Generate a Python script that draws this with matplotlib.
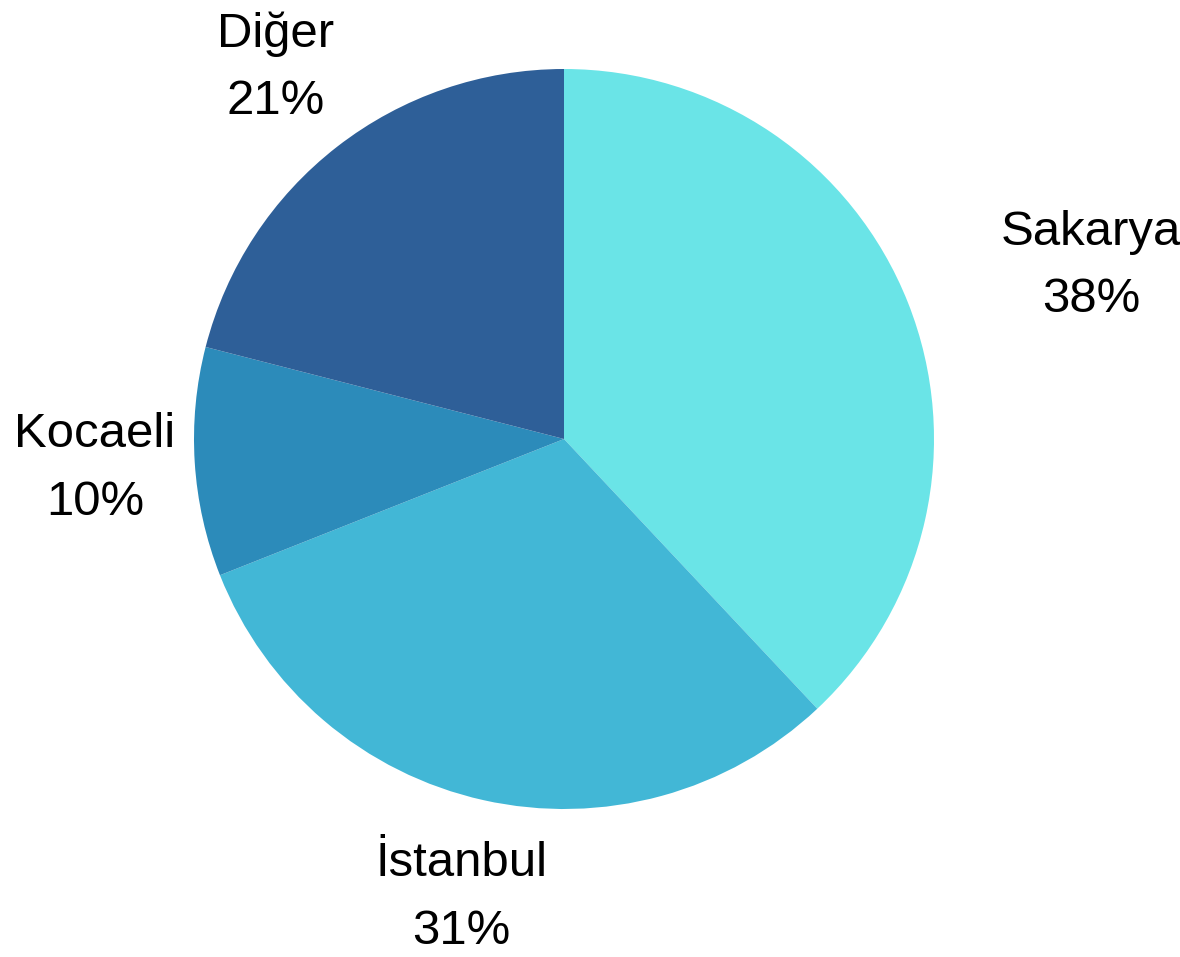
import numpy as np
import matplotlib
matplotlib.use("Agg")
import matplotlib.pyplot as plt

plt.rcParams['font.family'] = ['Liberation Sans', 'DejaVu Sans']

# pay dağılımı (%)
cities = ['Sakarya', 'İstanbul', 'Kocaeli', 'Diğer']
shares = [38, 31, 10, 21]
colors = ['#6ae4e7', '#42b7d6', '#2c8bba', '#2e5f98']
# etiketi dilime çakışmasın diye sağa yaslananlar
halign = ['left', 'center', 'center', 'center']

fig = plt.figure(figsize=(11.8, 9.57), dpi=100)
ax = fig.add_axes([0, 0, 1, 1])

R = 370.0
cx, cy = 564.0, 439.0
wedges, _ = ax.pie(shares, colors=colors, startangle=90, counterclock=False,
                   radius=1.0, wedgeprops=dict(linewidth=0))

# etiketler: dilimin orta açısında, 1.27r uzaklıkta
for w, name, val, ha in zip(wedges, cities, shares, halign):
    ang = np.deg2rad((w.theta1 + w.theta2) / 2)
    x = 1.27 * np.cos(ang)
    y = 1.27 * np.sin(ang)
    ax.text(x, y, '{}\n{}%'.format(name, val), ha=ha, va='center',
            multialignment='center', fontsize=35.4, linespacing=1.64,
            color='black')

ax.set_aspect('equal')
ax.set_xlim(-cx / R, (1180 - cx) / R)
ax.set_ylim(-(957 - cy) / R, cy / R)
ax.axis('off')

fig.savefig('out.png', dpi=100, facecolor='white')
